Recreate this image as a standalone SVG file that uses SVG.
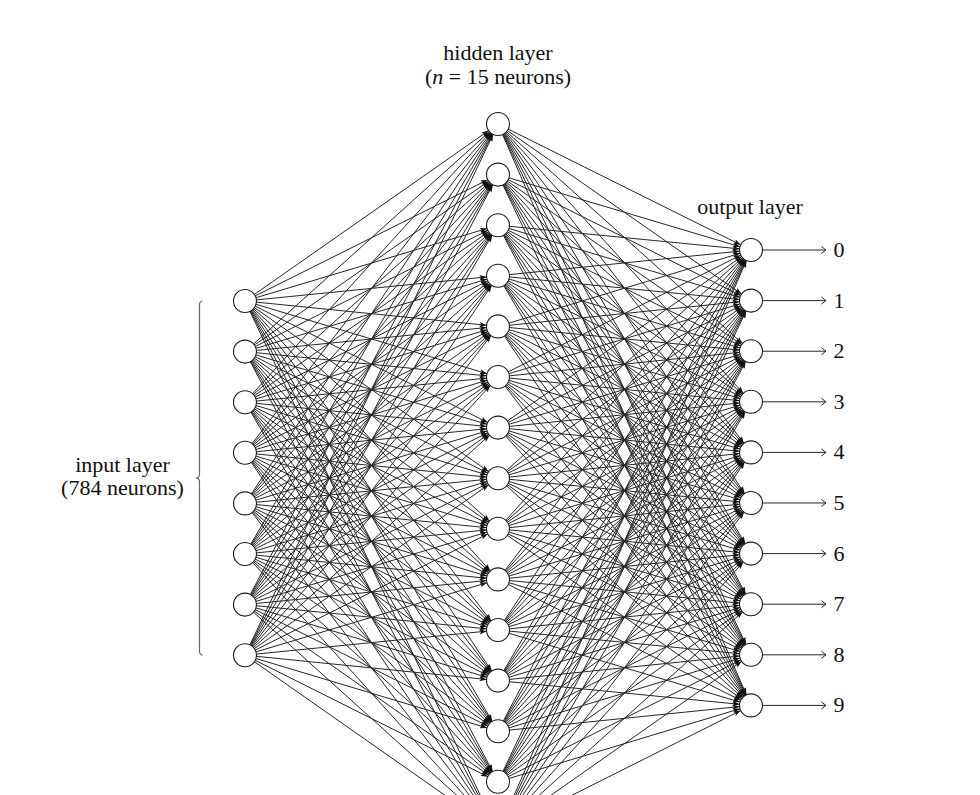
<svg xmlns="http://www.w3.org/2000/svg" width="980" height="795" viewBox="0 0 980 795">
<defs>
<marker id="ah" markerUnits="userSpaceOnUse" markerWidth="10" markerHeight="10" refX="11.5" refY="0" orient="auto" overflow="visible">
<path d="M-7,-2.6 L0,0 L-7,2.6 L-5.5,0 z" fill="#111"/>
</marker>
<marker id="to" markerUnits="userSpaceOnUse" markerWidth="10" markerHeight="10" refX="0" refY="0" orient="auto" overflow="visible">
<path d="M-4.5,-3.5 Q-1.2,-0.8 0,0 Q-1.2,0.8 -4.5,3.5" fill="none" stroke="#222" stroke-width="1"/>
</marker>
</defs>
<style>
.e{stroke:#262626;stroke-width:1;fill:none;marker-end:url(#ah)}
.o{stroke:#262626;stroke-width:1;fill:none;marker-end:url(#to)}
.n{fill:#fff;stroke:#1a1a1a;stroke-width:1.1}
.t{font-family:"Liberation Serif","Times New Roman",serif;font-size:22px;fill:#111;text-anchor:middle}
.b{fill:none;stroke:#666;stroke-width:1.2}
</style>
<rect width="980" height="795" fill="#fff"/>
<g id="connectors">
<path class="e" d="M245 301L498 124"/><path class="e" d="M245 351.6L498 124"/><path class="e" d="M245 402.2L498 124"/><path class="e" d="M245 452.8L498 124"/><path class="e" d="M245 503.4L498 124"/><path class="e" d="M245 554L498 124"/><path class="e" d="M245 604.6L498 124"/><path class="e" d="M245 655.2L498 124"/>
<path class="e" d="M245 301L498 174.6"/><path class="e" d="M245 351.6L498 174.6"/><path class="e" d="M245 402.2L498 174.6"/><path class="e" d="M245 452.8L498 174.6"/><path class="e" d="M245 503.4L498 174.6"/><path class="e" d="M245 554L498 174.6"/><path class="e" d="M245 604.6L498 174.6"/><path class="e" d="M245 655.2L498 174.6"/>
<path class="e" d="M245 301L498 225.2"/><path class="e" d="M245 351.6L498 225.2"/><path class="e" d="M245 402.2L498 225.2"/><path class="e" d="M245 452.8L498 225.2"/><path class="e" d="M245 503.4L498 225.2"/><path class="e" d="M245 554L498 225.2"/><path class="e" d="M245 604.6L498 225.2"/><path class="e" d="M245 655.2L498 225.2"/>
<path class="e" d="M245 301L498 275.8"/><path class="e" d="M245 351.6L498 275.8"/><path class="e" d="M245 402.2L498 275.8"/><path class="e" d="M245 452.8L498 275.8"/><path class="e" d="M245 503.4L498 275.8"/><path class="e" d="M245 554L498 275.8"/><path class="e" d="M245 604.6L498 275.8"/><path class="e" d="M245 655.2L498 275.8"/>
<path class="e" d="M245 301L498 326.4"/><path class="e" d="M245 351.6L498 326.4"/><path class="e" d="M245 402.2L498 326.4"/><path class="e" d="M245 452.8L498 326.4"/><path class="e" d="M245 503.4L498 326.4"/><path class="e" d="M245 554L498 326.4"/><path class="e" d="M245 604.6L498 326.4"/><path class="e" d="M245 655.2L498 326.4"/>
<path class="e" d="M245 301L498 377"/><path class="e" d="M245 351.6L498 377"/><path class="e" d="M245 402.2L498 377"/><path class="e" d="M245 452.8L498 377"/><path class="e" d="M245 503.4L498 377"/><path class="e" d="M245 554L498 377"/><path class="e" d="M245 604.6L498 377"/><path class="e" d="M245 655.2L498 377"/>
<path class="e" d="M245 301L498 427.6"/><path class="e" d="M245 351.6L498 427.6"/><path class="e" d="M245 402.2L498 427.6"/><path class="e" d="M245 452.8L498 427.6"/><path class="e" d="M245 503.4L498 427.6"/><path class="e" d="M245 554L498 427.6"/><path class="e" d="M245 604.6L498 427.6"/><path class="e" d="M245 655.2L498 427.6"/>
<path class="e" d="M245 301L498 478.2"/><path class="e" d="M245 351.6L498 478.2"/><path class="e" d="M245 402.2L498 478.2"/><path class="e" d="M245 452.8L498 478.2"/><path class="e" d="M245 503.4L498 478.2"/><path class="e" d="M245 554L498 478.2"/><path class="e" d="M245 604.6L498 478.2"/><path class="e" d="M245 655.2L498 478.2"/>
<path class="e" d="M245 301L498 528.8"/><path class="e" d="M245 351.6L498 528.8"/><path class="e" d="M245 402.2L498 528.8"/><path class="e" d="M245 452.8L498 528.8"/><path class="e" d="M245 503.4L498 528.8"/><path class="e" d="M245 554L498 528.8"/><path class="e" d="M245 604.6L498 528.8"/><path class="e" d="M245 655.2L498 528.8"/>
<path class="e" d="M245 301L498 579.4"/><path class="e" d="M245 351.6L498 579.4"/><path class="e" d="M245 402.2L498 579.4"/><path class="e" d="M245 452.8L498 579.4"/><path class="e" d="M245 503.4L498 579.4"/><path class="e" d="M245 554L498 579.4"/><path class="e" d="M245 604.6L498 579.4"/><path class="e" d="M245 655.2L498 579.4"/>
<path class="e" d="M245 301L498 630"/><path class="e" d="M245 351.6L498 630"/><path class="e" d="M245 402.2L498 630"/><path class="e" d="M245 452.8L498 630"/><path class="e" d="M245 503.4L498 630"/><path class="e" d="M245 554L498 630"/><path class="e" d="M245 604.6L498 630"/><path class="e" d="M245 655.2L498 630"/>
<path class="e" d="M245 301L498 680.6"/><path class="e" d="M245 351.6L498 680.6"/><path class="e" d="M245 402.2L498 680.6"/><path class="e" d="M245 452.8L498 680.6"/><path class="e" d="M245 503.4L498 680.6"/><path class="e" d="M245 554L498 680.6"/><path class="e" d="M245 604.6L498 680.6"/><path class="e" d="M245 655.2L498 680.6"/>
<path class="e" d="M245 301L498 731.2"/><path class="e" d="M245 351.6L498 731.2"/><path class="e" d="M245 402.2L498 731.2"/><path class="e" d="M245 452.8L498 731.2"/><path class="e" d="M245 503.4L498 731.2"/><path class="e" d="M245 554L498 731.2"/><path class="e" d="M245 604.6L498 731.2"/><path class="e" d="M245 655.2L498 731.2"/>
<path class="e" d="M245 301L498 781.8"/><path class="e" d="M245 351.6L498 781.8"/><path class="e" d="M245 402.2L498 781.8"/><path class="e" d="M245 452.8L498 781.8"/><path class="e" d="M245 503.4L498 781.8"/><path class="e" d="M245 554L498 781.8"/><path class="e" d="M245 604.6L498 781.8"/><path class="e" d="M245 655.2L498 781.8"/>
<path class="e" d="M245 301L498 832.4"/><path class="e" d="M245 351.6L498 832.4"/><path class="e" d="M245 402.2L498 832.4"/><path class="e" d="M245 452.8L498 832.4"/><path class="e" d="M245 503.4L498 832.4"/><path class="e" d="M245 554L498 832.4"/><path class="e" d="M245 604.6L498 832.4"/><path class="e" d="M245 655.2L498 832.4"/>

<path class="e" d="M498 124L751 250"/><path class="e" d="M498 174.6L751 250"/><path class="e" d="M498 225.2L751 250"/><path class="e" d="M498 275.8L751 250"/><path class="e" d="M498 326.4L751 250"/><path class="e" d="M498 377L751 250"/><path class="e" d="M498 427.6L751 250"/><path class="e" d="M498 478.2L751 250"/><path class="e" d="M498 528.8L751 250"/><path class="e" d="M498 579.4L751 250"/><path class="e" d="M498 630L751 250"/><path class="e" d="M498 680.6L751 250"/><path class="e" d="M498 731.2L751 250"/><path class="e" d="M498 781.8L751 250"/><path class="e" d="M498 832.4L751 250"/>
<path class="e" d="M498 124L751 300.6"/><path class="e" d="M498 174.6L751 300.6"/><path class="e" d="M498 225.2L751 300.6"/><path class="e" d="M498 275.8L751 300.6"/><path class="e" d="M498 326.4L751 300.6"/><path class="e" d="M498 377L751 300.6"/><path class="e" d="M498 427.6L751 300.6"/><path class="e" d="M498 478.2L751 300.6"/><path class="e" d="M498 528.8L751 300.6"/><path class="e" d="M498 579.4L751 300.6"/><path class="e" d="M498 630L751 300.6"/><path class="e" d="M498 680.6L751 300.6"/><path class="e" d="M498 731.2L751 300.6"/><path class="e" d="M498 781.8L751 300.6"/><path class="e" d="M498 832.4L751 300.6"/>
<path class="e" d="M498 124L751 351.2"/><path class="e" d="M498 174.6L751 351.2"/><path class="e" d="M498 225.2L751 351.2"/><path class="e" d="M498 275.8L751 351.2"/><path class="e" d="M498 326.4L751 351.2"/><path class="e" d="M498 377L751 351.2"/><path class="e" d="M498 427.6L751 351.2"/><path class="e" d="M498 478.2L751 351.2"/><path class="e" d="M498 528.8L751 351.2"/><path class="e" d="M498 579.4L751 351.2"/><path class="e" d="M498 630L751 351.2"/><path class="e" d="M498 680.6L751 351.2"/><path class="e" d="M498 731.2L751 351.2"/><path class="e" d="M498 781.8L751 351.2"/><path class="e" d="M498 832.4L751 351.2"/>
<path class="e" d="M498 124L751 401.8"/><path class="e" d="M498 174.6L751 401.8"/><path class="e" d="M498 225.2L751 401.8"/><path class="e" d="M498 275.8L751 401.8"/><path class="e" d="M498 326.4L751 401.8"/><path class="e" d="M498 377L751 401.8"/><path class="e" d="M498 427.6L751 401.8"/><path class="e" d="M498 478.2L751 401.8"/><path class="e" d="M498 528.8L751 401.8"/><path class="e" d="M498 579.4L751 401.8"/><path class="e" d="M498 630L751 401.8"/><path class="e" d="M498 680.6L751 401.8"/><path class="e" d="M498 731.2L751 401.8"/><path class="e" d="M498 781.8L751 401.8"/><path class="e" d="M498 832.4L751 401.8"/>
<path class="e" d="M498 124L751 452.4"/><path class="e" d="M498 174.6L751 452.4"/><path class="e" d="M498 225.2L751 452.4"/><path class="e" d="M498 275.8L751 452.4"/><path class="e" d="M498 326.4L751 452.4"/><path class="e" d="M498 377L751 452.4"/><path class="e" d="M498 427.6L751 452.4"/><path class="e" d="M498 478.2L751 452.4"/><path class="e" d="M498 528.8L751 452.4"/><path class="e" d="M498 579.4L751 452.4"/><path class="e" d="M498 630L751 452.4"/><path class="e" d="M498 680.6L751 452.4"/><path class="e" d="M498 731.2L751 452.4"/><path class="e" d="M498 781.8L751 452.4"/><path class="e" d="M498 832.4L751 452.4"/>
<path class="e" d="M498 124L751 503"/><path class="e" d="M498 174.6L751 503"/><path class="e" d="M498 225.2L751 503"/><path class="e" d="M498 275.8L751 503"/><path class="e" d="M498 326.4L751 503"/><path class="e" d="M498 377L751 503"/><path class="e" d="M498 427.6L751 503"/><path class="e" d="M498 478.2L751 503"/><path class="e" d="M498 528.8L751 503"/><path class="e" d="M498 579.4L751 503"/><path class="e" d="M498 630L751 503"/><path class="e" d="M498 680.6L751 503"/><path class="e" d="M498 731.2L751 503"/><path class="e" d="M498 781.8L751 503"/><path class="e" d="M498 832.4L751 503"/>
<path class="e" d="M498 124L751 553.6"/><path class="e" d="M498 174.6L751 553.6"/><path class="e" d="M498 225.2L751 553.6"/><path class="e" d="M498 275.8L751 553.6"/><path class="e" d="M498 326.4L751 553.6"/><path class="e" d="M498 377L751 553.6"/><path class="e" d="M498 427.6L751 553.6"/><path class="e" d="M498 478.2L751 553.6"/><path class="e" d="M498 528.8L751 553.6"/><path class="e" d="M498 579.4L751 553.6"/><path class="e" d="M498 630L751 553.6"/><path class="e" d="M498 680.6L751 553.6"/><path class="e" d="M498 731.2L751 553.6"/><path class="e" d="M498 781.8L751 553.6"/><path class="e" d="M498 832.4L751 553.6"/>
<path class="e" d="M498 124L751 604.2"/><path class="e" d="M498 174.6L751 604.2"/><path class="e" d="M498 225.2L751 604.2"/><path class="e" d="M498 275.8L751 604.2"/><path class="e" d="M498 326.4L751 604.2"/><path class="e" d="M498 377L751 604.2"/><path class="e" d="M498 427.6L751 604.2"/><path class="e" d="M498 478.2L751 604.2"/><path class="e" d="M498 528.8L751 604.2"/><path class="e" d="M498 579.4L751 604.2"/><path class="e" d="M498 630L751 604.2"/><path class="e" d="M498 680.6L751 604.2"/><path class="e" d="M498 731.2L751 604.2"/><path class="e" d="M498 781.8L751 604.2"/><path class="e" d="M498 832.4L751 604.2"/>
<path class="e" d="M498 124L751 654.8"/><path class="e" d="M498 174.6L751 654.8"/><path class="e" d="M498 225.2L751 654.8"/><path class="e" d="M498 275.8L751 654.8"/><path class="e" d="M498 326.4L751 654.8"/><path class="e" d="M498 377L751 654.8"/><path class="e" d="M498 427.6L751 654.8"/><path class="e" d="M498 478.2L751 654.8"/><path class="e" d="M498 528.8L751 654.8"/><path class="e" d="M498 579.4L751 654.8"/><path class="e" d="M498 630L751 654.8"/><path class="e" d="M498 680.6L751 654.8"/><path class="e" d="M498 731.2L751 654.8"/><path class="e" d="M498 781.8L751 654.8"/><path class="e" d="M498 832.4L751 654.8"/>
<path class="e" d="M498 124L751 705.4"/><path class="e" d="M498 174.6L751 705.4"/><path class="e" d="M498 225.2L751 705.4"/><path class="e" d="M498 275.8L751 705.4"/><path class="e" d="M498 326.4L751 705.4"/><path class="e" d="M498 377L751 705.4"/><path class="e" d="M498 427.6L751 705.4"/><path class="e" d="M498 478.2L751 705.4"/><path class="e" d="M498 528.8L751 705.4"/><path class="e" d="M498 579.4L751 705.4"/><path class="e" d="M498 630L751 705.4"/><path class="e" d="M498 680.6L751 705.4"/><path class="e" d="M498 731.2L751 705.4"/><path class="e" d="M498 781.8L751 705.4"/><path class="e" d="M498 832.4L751 705.4"/>

<path class="o" d="M762.5 250H826"/><path class="o" d="M762.5 300.6H826"/><path class="o" d="M762.5 351.2H826"/><path class="o" d="M762.5 401.8H826"/><path class="o" d="M762.5 452.4H826"/><path class="o" d="M762.5 503H826"/><path class="o" d="M762.5 553.6H826"/><path class="o" d="M762.5 604.2H826"/><path class="o" d="M762.5 654.8H826"/><path class="o" d="M762.5 705.4H826"/>
</g>
<g id="input-layer">
<circle class="n" cx="245" cy="301" r="11.5"/><circle class="n" cx="245" cy="351.6" r="11.5"/><circle class="n" cx="245" cy="402.2" r="11.5"/><circle class="n" cx="245" cy="452.8" r="11.5"/><circle class="n" cx="245" cy="503.4" r="11.5"/><circle class="n" cx="245" cy="554" r="11.5"/><circle class="n" cx="245" cy="604.6" r="11.5"/><circle class="n" cx="245" cy="655.2" r="11.5"/>
<path class="b" d="M202.5 301 Q199.5 301.5 199.5 305 L199.5 474 Q199.5 478 196 478.1 Q199.5 478.2 199.5 482 L199.5 651 Q199.5 654.8 202.5 655.2"/>
<text class="t" x="122.5" y="472">input layer</text>
<text class="t" x="122.5" y="495">(784 neurons)</text>
</g>
<g id="hidden-layer">
<circle class="n" cx="498" cy="124" r="11.5"/><circle class="n" cx="498" cy="174.6" r="11.5"/><circle class="n" cx="498" cy="225.2" r="11.5"/><circle class="n" cx="498" cy="275.8" r="11.5"/><circle class="n" cx="498" cy="326.4" r="11.5"/><circle class="n" cx="498" cy="377" r="11.5"/><circle class="n" cx="498" cy="427.6" r="11.5"/><circle class="n" cx="498" cy="478.2" r="11.5"/><circle class="n" cx="498" cy="528.8" r="11.5"/><circle class="n" cx="498" cy="579.4" r="11.5"/><circle class="n" cx="498" cy="630" r="11.5"/><circle class="n" cx="498" cy="680.6" r="11.5"/><circle class="n" cx="498" cy="731.2" r="11.5"/><circle class="n" cx="498" cy="781.8" r="11.5"/><circle class="n" cx="498" cy="832.4" r="11.5"/>
<text class="t" x="498" y="60">hidden layer</text>
<text class="t" x="498" y="84">(<tspan font-style="italic">n</tspan> = 15 neurons)</text>
</g>
<g id="output-layer">
<circle class="n" cx="751" cy="250" r="11.5"/><circle class="n" cx="751" cy="300.6" r="11.5"/><circle class="n" cx="751" cy="351.2" r="11.5"/><circle class="n" cx="751" cy="401.8" r="11.5"/><circle class="n" cx="751" cy="452.4" r="11.5"/><circle class="n" cx="751" cy="503" r="11.5"/><circle class="n" cx="751" cy="553.6" r="11.5"/><circle class="n" cx="751" cy="604.2" r="11.5"/><circle class="n" cx="751" cy="654.8" r="11.5"/><circle class="n" cx="751" cy="705.4" r="11.5"/>
<text class="t" x="750" y="214">output layer</text>
<text class="t" x="839" y="257">0</text><text class="t" x="839" y="307.6">1</text><text class="t" x="839" y="358.2">2</text><text class="t" x="839" y="408.8">3</text><text class="t" x="839" y="459.4">4</text><text class="t" x="839" y="510">5</text><text class="t" x="839" y="560.6">6</text><text class="t" x="839" y="611.2">7</text><text class="t" x="839" y="661.8">8</text><text class="t" x="839" y="712.4">9</text>
</g>
</svg>
